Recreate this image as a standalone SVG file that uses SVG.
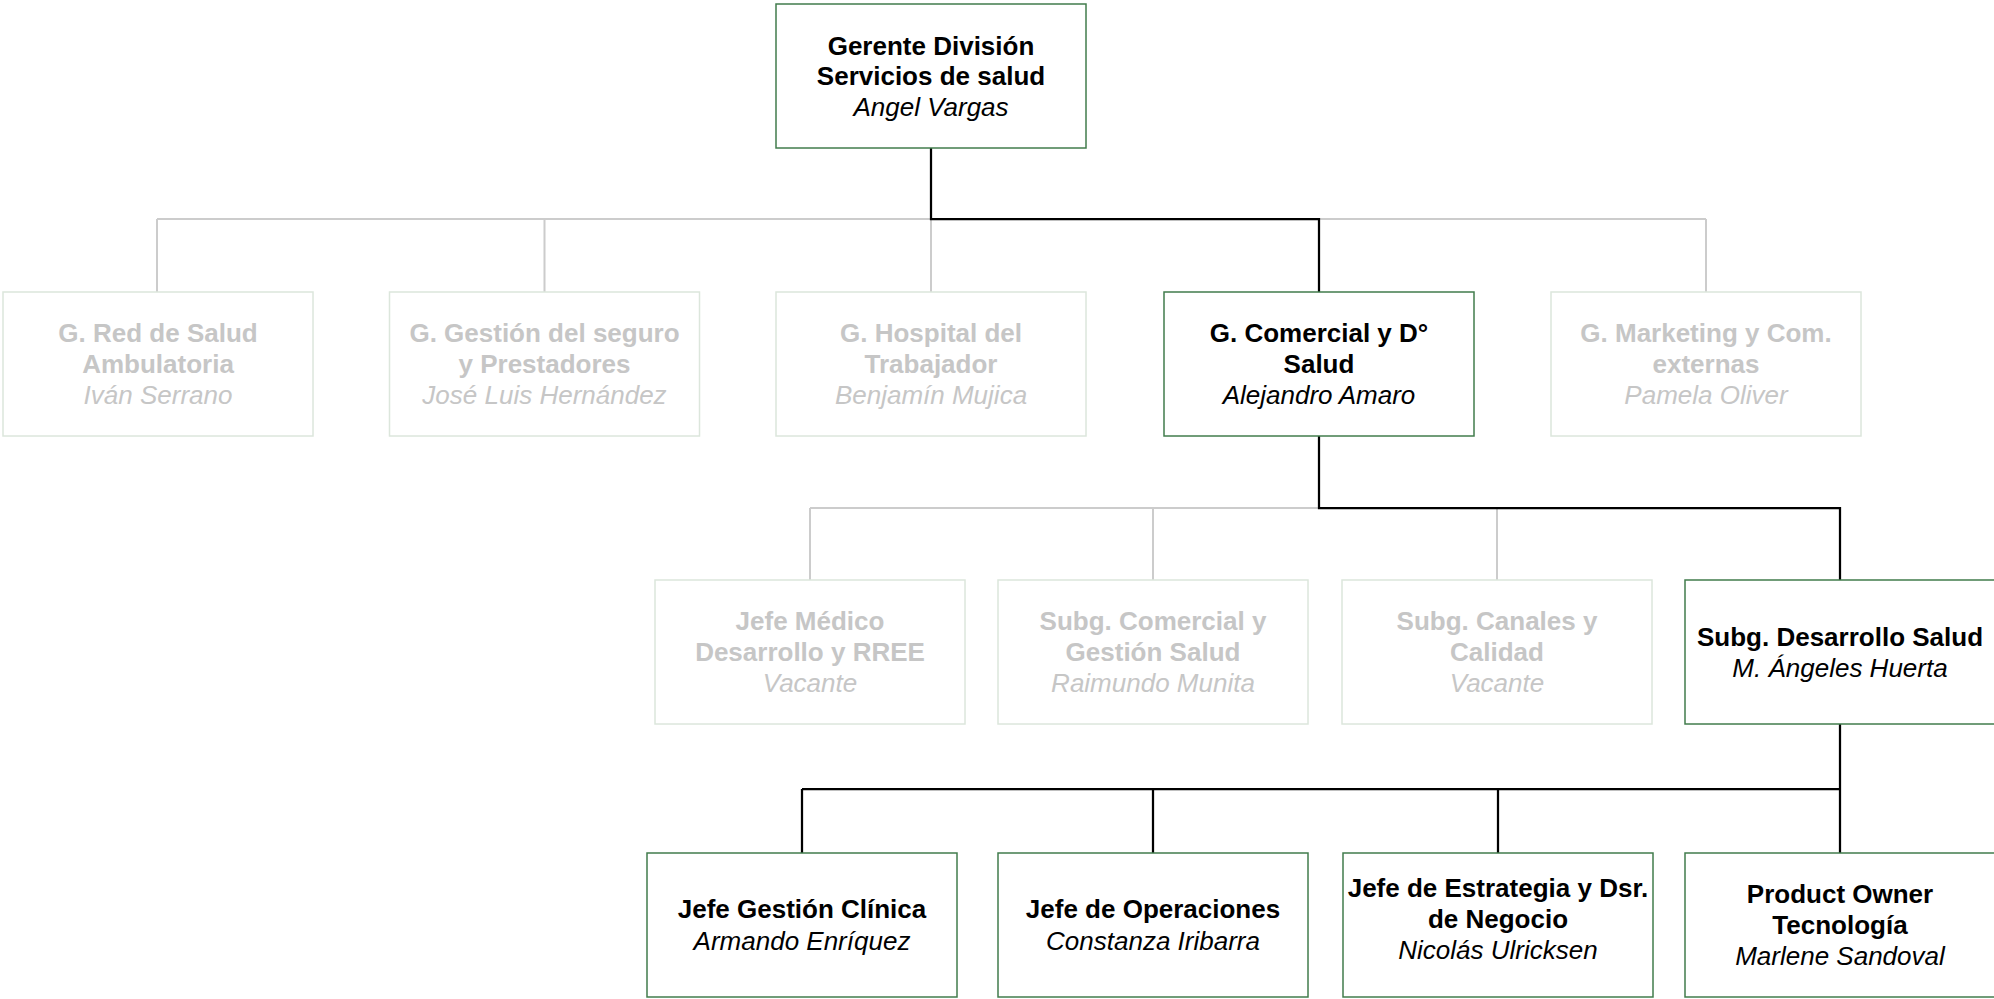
<svg xmlns="http://www.w3.org/2000/svg" width="1994" height="999" viewBox="0 0 1994 999">
<style>
.box{fill:#ffffff;stroke:#427c4c;stroke-width:1.5}
.fbox{fill:#ffffff;stroke:#dce6dc;stroke-width:1.5}
.t{font-family:"Liberation Sans",Arial,sans-serif;font-size:26px;text-anchor:middle;fill:#000000}
.f{fill:#c6c6c6}
.b{font-weight:bold}
.i{font-style:italic}
.cg{stroke:#cccccc;stroke-width:2;fill:none}
.ck{stroke:#000000;stroke-width:2.25;fill:none}
</style>
<rect width="1994" height="999" fill="#ffffff"/>
<g id="connectors">
<path class="cg" d="M157 219H1706M157 219V292M544.5 219V292M931 219V292M1706 219V292"/>
<path class="cg" d="M810 508H1319M810 508V580M1153 508V580M1497 508V580"/>
<path class="ck" d="M931 148V219H1319V292"/>
<path class="ck" d="M1319 436V508H1840V580"/>
<path class="ck" d="M1840 724V853M802 789H1840M802 789V853M1153 789V853M1498 789V853"/>
</g>
<g id="n-gerente">
<rect class="box" x="776" y="4" width="310" height="144"/>
<text class="t b" x="931" y="54.5">Gerente División</text>
<text class="t b" x="931" y="85">Servicios de salud</text>
<text class="t i" x="931" y="115.5">Angel Vargas</text>
</g>
<g id="n-red">
<rect class="fbox" x="3" y="292" width="310" height="144"/>
<text class="t b f" x="158" y="342">G. Red de Salud</text>
<text class="t b f" x="158" y="373">Ambulatoria</text>
<text class="t i f" x="158" y="404">Iván Serrano</text>
</g>
<g id="n-seguro">
<rect class="fbox" x="389.5" y="292" width="310" height="144"/>
<text class="t b f" x="544.5" y="342">G. Gestión del seguro</text>
<text class="t b f" x="544.5" y="373">y Prestadores</text>
<text class="t i f" x="544.5" y="404">José Luis Hernández</text>
</g>
<g id="n-hospital">
<rect class="fbox" x="776" y="292" width="310" height="144"/>
<text class="t b f" x="931" y="342">G. Hospital del</text>
<text class="t b f" x="931" y="373">Trabajador</text>
<text class="t i f" x="931" y="404">Benjamín Mujica</text>
</g>
<g id="n-comercial">
<rect class="box" x="1164" y="292" width="310" height="144"/>
<text class="t b" x="1319" y="342">G. Comercial y D°</text>
<text class="t b" x="1319" y="373">Salud</text>
<text class="t i" x="1319" y="404">Alejandro Amaro</text>
</g>
<g id="n-marketing">
<rect class="fbox" x="1551" y="292" width="310" height="144"/>
<text class="t b f" x="1706" y="342">G. Marketing y Com.</text>
<text class="t b f" x="1706" y="373">externas</text>
<text class="t i f" x="1706" y="404">Pamela Oliver</text>
</g>
<g id="n-medico">
<rect class="fbox" x="655" y="580" width="310" height="144"/>
<text class="t b f" x="810" y="630">Jefe Médico</text>
<text class="t b f" x="810" y="661">Desarrollo y RREE</text>
<text class="t i f" x="810" y="692">Vacante</text>
</g>
<g id="n-subcomercial">
<rect class="fbox" x="998" y="580" width="310" height="144"/>
<text class="t b f" x="1153" y="630">Subg. Comercial y</text>
<text class="t b f" x="1153" y="661">Gestión Salud</text>
<text class="t i f" x="1153" y="692">Raimundo Munita</text>
</g>
<g id="n-canales">
<rect class="fbox" x="1342" y="580" width="310" height="144"/>
<text class="t b f" x="1497" y="630">Subg. Canales y</text>
<text class="t b f" x="1497" y="661">Calidad</text>
<text class="t i f" x="1497" y="692">Vacante</text>
</g>
<g id="n-desarrollo">
<rect class="box" x="1685" y="580" width="310" height="144"/>
<text class="t b" x="1840" y="645.5">Subg. Desarrollo Salud</text>
<text class="t i" x="1840" y="677">M. Ángeles Huerta</text>
</g>
<g id="n-clinica">
<rect class="box" x="647" y="853" width="310" height="144"/>
<text class="t b" x="802" y="918">Jefe Gestión Clínica</text>
<text class="t i" x="802" y="950">Armando Enríquez</text>
</g>
<g id="n-operaciones">
<rect class="box" x="998" y="853" width="310" height="144"/>
<text class="t b" x="1153" y="918">Jefe de Operaciones</text>
<text class="t i" x="1153" y="950">Constanza Iribarra</text>
</g>
<g id="n-estrategia">
<rect class="box" x="1343" y="853" width="310" height="144"/>
<text class="t b" x="1498" y="897">Jefe de Estrategia y Dsr.</text>
<text class="t b" x="1498" y="928">de Negocio</text>
<text class="t i" x="1498" y="959">Nicolás Ulricksen</text>
</g>
<g id="n-product">
<rect class="box" x="1685" y="853" width="310" height="144"/>
<text class="t b" x="1840" y="903">Product Owner</text>
<text class="t b" x="1840" y="934">Tecnología</text>
<text class="t i" x="1840" y="965">Marlene Sandoval</text>
</g>
</svg>
